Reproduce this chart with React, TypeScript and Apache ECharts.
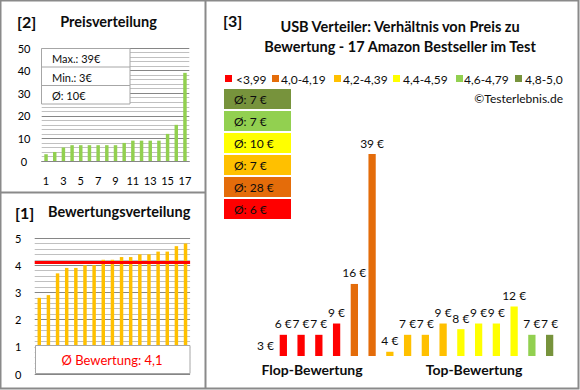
import React, { useEffect, useRef } from "react";
import * as echarts from "echarts";

// ---------- data ----------
const productIds = ["1", "2", "3", "4", "5", "6", "7", "8", "9", "10", "11", "12", "13", "14", "15", "16", "17"];
const sortedPrices = [3, 4, 6, 7, 7, 7, 7, 7, 7, 8, 9, 9, 9, 9, 12, 16, 39];
const priceStats = ["Max.: 39€", "Min.: 3€", "Ø: 10€"];

const sortedRatings = [2.8, 2.9, 3.7, 3.9, 3.9, 4.0, 4.0, 4.2, 4.2, 4.3, 4.3, 4.4, 4.4, 4.5, 4.5, 4.7, 4.8];
const avgRating = 4.1;
const avgRatingLabel = "Ø Bewertung: 4,1";

const classLabels = ["<3,99", "4,0-4,19", "4,2-4,39", "4,4-4,59", "4,6-4,79", "4,8-5,0"];
const classColors = ["#FF0000", "#E46C0A", "#FFC000", "#FFFF00", "#92D050", "#77933C"];
const classAvgLabels = ["Ø: 6 €", "Ø: 28 €", "Ø: 7 €", "Ø: 10 €", "Ø: 7 €", "Ø: 7 €"];

// products ordered by rating (same order as sortedRatings)
const productPriceLabels = [3, 6, 7, 7, 9, 16, 39, 4, 7, 7, 9, 8, 9, 9, 12, 7, 7];
const productBarValues = [3.25, 7, 7, 7, 9, 16, 39, 4, 7, 7, 9, 8, 9, 9, 12, 7, 7];
const priceAxisMin = 3.25;
const priceAxisMax = 39;

const groupLabels = ["Flop-Bewertung", "Top-Bewertung"];
const titleLines = ["USB Verteiler: Verhältnis von Preis zu", "Bewertung - 17 Amazon Bestseller im Test"];
const copyright = "©Testerlebnis.de";

// ---------- layout / style ----------
const FONT = "Lato, 'Open Sans', sans-serif";
const FRAME = "#8A8A8A";
const legendSquareX = [225, 272, 334, 393, 456, 515];
const legendTextX = [236, 281, 343, 403, 464, 525];

const classOf = (r: number) => (r < 4 ? 0 : r < 4.2 ? 1 : r < 4.4 ? 2 : r < 4.6 ? 3 : r < 4.8 ? 4 : 5);

const txt = (text: string, x: number, y: number, size: number, opts: any = {}) => ({
  type: "text",
  x,
  y,
  z: 100,
  silent: true,
  style: {
    text,
    fill: opts.fill || "#0D0D0D",
    fontSize: size,
    fontWeight: opts.bold ? "bold" : "normal",
    fontFamily: FONT,
    align: opts.align || "left",
    verticalAlign: "middle",
  },
});

function buildOption(): any {
  const graphics: any[] = [];
  // frames
  graphics.push({ type: "rect", z: 100, silent: true, shape: { x: 0.5, y: 0.5, width: 578, height: 388 }, style: { fill: "none", stroke: FRAME, lineWidth: 2 } });
  graphics.push({ type: "line", z: 100, silent: true, shape: { x1: 205.5, y1: 0, x2: 205.5, y2: 389 }, style: { stroke: FRAME, lineWidth: 2 } });
  graphics.push({ type: "line", z: 100, silent: true, shape: { x1: 0, y1: 192.5, x2: 205, y2: 192.5 }, style: { stroke: FRAME, lineWidth: 2 } });

  // panel [2]
  graphics.push(txt("[2]", 17, 21, 16, { bold: true }));
  graphics.push(txt("Preisverteilung", 108.5, 21, 14.5, { bold: true, align: "center" }));
  graphics.push({ type: "rect", z: 100, silent: true, shape: { x: 41.5, y: 48.5, width: 88.5, height: 55.5 }, style: { fill: "#fff", stroke: "#A6A6A6", lineWidth: 1 } });
  graphics.push({ type: "line", z: 101, silent: true, shape: { x1: 41.5, y1: 67, x2: 130, y2: 67 }, style: { stroke: "#A6A6A6", lineWidth: 1 } });
  graphics.push({ type: "line", z: 101, silent: true, shape: { x1: 41.5, y1: 85.5, x2: 130, y2: 85.5 }, style: { stroke: "#A6A6A6", lineWidth: 1 } });
  priceStats.forEach((s, i) => graphics.push(txt(s, 52, 58.5 + i * 18.5, 11)));

  // panel [1]
  graphics.push(txt("[1]", 15, 212, 16, { bold: true }));
  graphics.push(txt("Bewertungsverteilung", 48, 211.5, 14.5, { bold: true }));
  graphics.push({ type: "rect", z: 100, silent: true, shape: { x: 35.5, y: 345.5, width: 154.5, height: 28 }, style: { fill: "#fff", stroke: "#A6A6A6", lineWidth: 1 } });
  graphics.push(txt(avgRatingLabel, 112, 360, 13, { fill: "#FF0000", align: "center" }));

  // panel [3]
  graphics.push(txt("[3]", 223, 20, 16, { bold: true }));
  titleLines.forEach((t, i) => graphics.push(txt(t, 400, 26 + i * 20, 14.5, { bold: true, align: "center" })));
  classLabels.forEach((l, i) => {
    graphics.push({ type: "rect", z: 100, silent: true, shape: { x: legendSquareX[i], y: 75, width: 7, height: 7 }, style: { fill: classColors[i] } });
    graphics.push(txt(l, legendTextX[i], 79, 12));
  });
  graphics.push(txt(copyright, 563, 98, 12, { align: "right" }));
  for (let k = 0; k < classColors.length; k++) {
    const ci = classColors.length - 1 - k;
    const top = 89 + k * 22;
    graphics.push({ type: "rect", z: 100, silent: true, shape: { x: 224, y: top, width: 67, height: 20 }, style: { fill: classColors[ci] } });
    graphics.push(txt(classAvgLabels[ci], 234, top + 10.5, 12));
  }
  graphics.push(txt(groupLabels[0], 312, 369, 14, { bold: true, align: "center" }));
  graphics.push(txt(groupLabels[1], 474, 369, 14, { bold: true, align: "center" }));

  const valueAxisStyle = (min: number, max: number, interval: number, margin: number, grid: number) => ({
    type: "value",
    gridIndex: grid,
    min,
    max,
    interval,
    axisLine: { show: false },
    axisTick: { show: false },
    axisLabel: { fontSize: 11, color: "#000", fontFamily: FONT, align: "center", margin },
    splitLine: { lineStyle: { color: "#868686", width: 1 } },
    minorTick: { show: false, splitNumber: 5 },
    minorSplitLine: { show: true, lineStyle: { color: "#C0C0C0", width: 1 } },
  });

  return {
    animation: false,
    backgroundColor: "#fff",
    textStyle: { fontFamily: FONT },
    grid: [
      { left: 41.7, top: 48, width: 147.6, height: 113 },
      { left: 34.7, top: 238, width: 155.4, height: 136 },
      { left: 256.7, top: 154, width: 301.8, height: 202 },
    ],
    xAxis: [
      {
        type: "category",
        gridIndex: 0,
        data: productIds,
        axisLine: { lineStyle: { color: "#868686" } },
        axisTick: { show: false },
        axisLabel: { interval: 1, fontSize: 11, color: "#000", fontFamily: FONT, margin: 14 },
      },
      {
        type: "category",
        gridIndex: 1,
        data: productIds,
        axisLine: { show: false },
        axisTick: { show: false },
        axisLabel: { show: false },
      },
      {
        type: "category",
        gridIndex: 2,
        data: productIds,
        axisLine: { show: false },
        axisTick: { show: false },
        axisLabel: { show: false },
      },
    ],
    yAxis: [
      valueAxisStyle(0, 50, 10, 17.7, 0),
      valueAxisStyle(0, 5, 1, 16.5, 1),
      { type: "value", gridIndex: 2, min: priceAxisMin, max: priceAxisMax, show: false, splitLine: { show: false } },
    ],
    series: [
      {
        type: "bar",
        xAxisIndex: 0,
        yAxisIndex: 0,
        data: sortedPrices,
        barWidth: "40%",
        itemStyle: { color: "#92D050" },
      },
      {
        type: "bar",
        xAxisIndex: 1,
        yAxisIndex: 1,
        data: sortedRatings,
        barWidth: "38%",
        itemStyle: { color: "#FFC000" },
        markLine: {
          silent: true,
          symbol: ["none", "none"],
          label: { show: false },
          lineStyle: { color: "#FF0000", width: 3, type: "solid" },
          data: [{ yAxis: avgRating }],
        },
      },
      {
        type: "bar",
        xAxisIndex: 2,
        yAxisIndex: 2,
        barWidth: "41%",
        data: productBarValues.map((v, i) => ({
          value: v,
          itemStyle: { color: classColors[classOf(sortedRatings[i])] },
        })),
        label: {
          show: true,
          position: "top",
          distance: 5,
          fontSize: 12,
          color: "#0D0D0D",
          fontFamily: FONT,
          formatter: (p: any) => productPriceLabels[p.dataIndex] + " €",
        },
      },
    ],
    graphic: { elements: graphics },
  };
}

export default function App() {
  const ref = useRef<HTMLDivElement>(null);
  useEffect(() => {
    const chart = echarts.init(ref.current!, null, { renderer: "svg" });
    chart.setOption(buildOption());
    return () => chart.dispose();
  }, []);
  return (
    <div
      ref={ref}
      style={{ position: "fixed", left: 0, top: 0, width: 580, height: 390, background: "#fff" }}
    />
  );
}
